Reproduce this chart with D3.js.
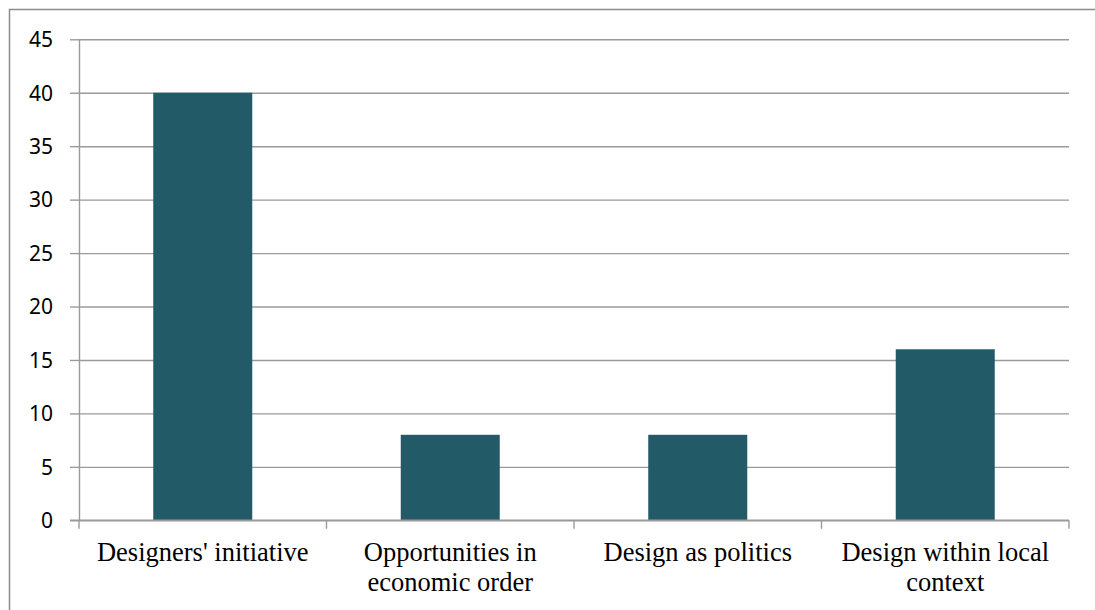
<!DOCTYPE html>
<html>
<head>
<meta charset="utf-8">
<script src="https://cdn.jsdelivr.net/npm/d3@7"></script>
<style>
  html, body { margin: 0; padding: 0; background: #fff; }
  svg { display: block; }
</style>
</head>
<body>
<svg id="chart" width="1095" height="610"></svg>
<script>
// Theme counts per category
const categories = [
  ["Designers' initiative"],
  ["Opportunities in", "economic order"],
  ["Design as politics"],
  ["Design within local", "context"]
];
const values = [40, 8, 8, 16];
const yTicks = [0, 5, 10, 15, 20, 25, 30, 35, 40, 45];

const svg = d3.select("#chart");
const W = 1095, H = 610;
const plot = { left: 79, right: 1069, top: 39.3, bottom: 520.3 };

// outer frame of the chart area
svg.append("rect")
  .attr("x", 9.5).attr("y", 9.5)
  .attr("width", W + 20).attr("height", H + 20)
  .attr("fill", "none").attr("stroke", "#8c8c8c").attr("stroke-width", 1.5);

const x = d3.scaleBand()
  .domain(d3.range(categories.length))
  .range([plot.left, plot.right])
  .paddingInner(0.6)
  .paddingOuter(0.3);

const y = d3.scaleLinear().domain([0, 45]).range([plot.bottom, plot.top]);

const gridColor = "#9a9a9a";

// horizontal gridlines with short outer ticks
const yAxis = svg.append("g")
  .attr("transform", `translate(${plot.left},0)`)
  .call(d3.axisLeft(y).tickValues(yTicks).tickSize(9).tickSizeOuter(0).tickFormat(d3.format("d")));
yAxis.select(".domain").attr("stroke", gridColor).attr("stroke-width", 1.4);
yAxis.selectAll(".tick line").attr("stroke", gridColor).attr("stroke-width", 1.4);
yAxis.selectAll(".tick").append("line")
  .attr("x1", 0).attr("x2", plot.right - plot.left)
  .attr("stroke", gridColor).attr("stroke-width", 1.4);
yAxis.selectAll(".tick text")
  .attr("x", -26)
  .attr("dy", "0.35em")
  .attr("fill", "#000")
  .style("font-family", "'Noto Sans', 'Open Sans', sans-serif")
  .style("font-size", "21px");

// bars
svg.append("g").selectAll("rect")
  .data(values)
  .join("rect")
  .attr("x", (d, i) => x(i))
  .attr("width", x.bandwidth())
  .attr("y", d => y(d))
  .attr("height", d => y(0) - y(d))
  .attr("fill", "#235a68");

// category axis with separator ticks between bands
const step = x.step();
const boundaries = d3.range(categories.length + 1).map(i => plot.left + i * step);
const xAxisG = svg.append("g");
xAxisG.append("line")
  .attr("x1", plot.left - 9).attr("x2", plot.right)
  .attr("y1", y(0)).attr("y2", y(0))
  .attr("stroke", gridColor).attr("stroke-width", 1.4);
xAxisG.selectAll("line.sep")
  .data(boundaries)
  .join("line")
  .attr("class", "sep")
  .attr("x1", d => d).attr("x2", d => d)
  .attr("y1", y(0)).attr("y2", y(0) + 8.5)
  .attr("stroke", gridColor).attr("stroke-width", 1.4);

const labels = xAxisG.selectAll("text")
  .data(categories)
  .join("text")
  .attr("x", (d, i) => x(i) + x.bandwidth() / 2)
  .attr("y", 561)
  .attr("text-anchor", "middle")
  .attr("fill", "#000")
  .style("font-family", "'Liberation Serif', 'Times New Roman', serif")
  .style("font-size", "26.5px");
labels.selectAll("tspan")
  .data(d => d)
  .join("tspan")
  .attr("x", function () { return d3.select(this.parentNode).attr("x"); })
  .attr("dy", (d, i) => i === 0 ? 0 : 30)
  .text(d => d);
</script>
</body>
</html>
